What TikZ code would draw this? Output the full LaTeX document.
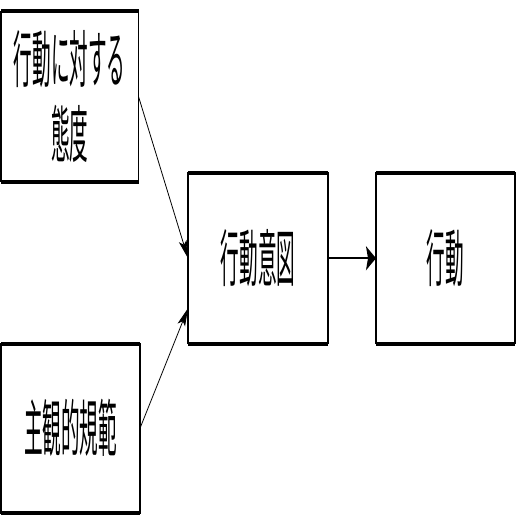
\documentclass[tikz,border=0pt]{standalone}
\usepackage{fontspec}
\newfontfamily\jpfont[FakeStretch=0.3]{Noto Sans CJK JP}
\usetikzlibrary{arrows.meta}
\tikzset{
  box/.style={draw, line width=1.3pt, rectangle, inner sep=0pt, outer sep=0pt,
    align=center, font=\jpfont\fontsize{62}{75}\selectfont},
  heavyedge/.style={line width=4pt},
  diagarrow/.style={line width=0.8pt, -{Stealth[length=18pt,width=8pt,inset=4pt]}},
  horizarrow/.style={line width=1.8pt, -{Stealth[length=10pt,width=24pt,inset=2pt]}}
}
\begin{document}
\begin{tikzpicture}[x=1pt,y=-1pt]
\useasboundingbox (0,0) rectangle (516,516);
\node[box, minimum width=137.5pt, minimum height=170pt] (att) at (69.75,96.5) {行動に対する\\態度};
\node[box, minimum width=140pt, minimum height=170.5pt] (int) at (258,258.25) {行動意図};
\node[box, minimum width=139pt, minimum height=170.5pt] (beh) at (445.5,258.25) {行動};
\node[box, minimum width=139pt, minimum height=169.5pt] (norm) at (70.5,428.25) {主観的規範};
\foreach \b in {att,int,beh,norm}{
  \draw[heavyedge] (\b.north west) -- (\b.north east);
  \draw[heavyedge] (\b.south west) -- (\b.south east);
}
\coordinate (inlow) at ([yshift=-50pt]int.west);
\draw[diagarrow] (att.east) -- (int.west);
\draw[diagarrow] (norm.east) -- (inlow);
\draw[horizarrow] (int.east) -- (beh.west);
\end{tikzpicture}
\end{document}
